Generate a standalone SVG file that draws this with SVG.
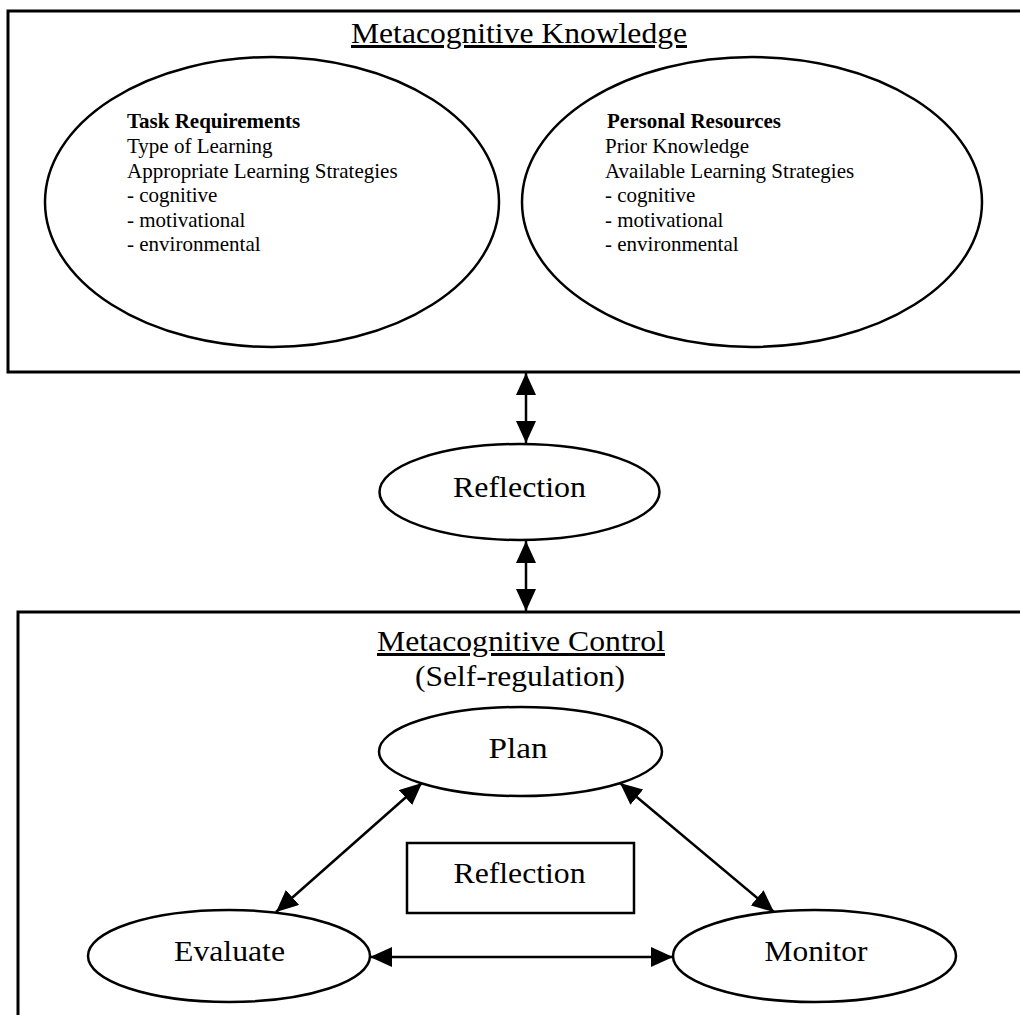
<svg xmlns="http://www.w3.org/2000/svg" width="1020" height="1015" viewBox="0 0 1020 1015">
<style>
.frame{fill:none;stroke:#000;stroke-width:3}
.shape{fill:#fff;stroke:#000;stroke-width:2.5}
.conn{fill:none;stroke:#000;stroke-width:2.5}
.big{font-family:"Liberation Serif","Times New Roman",serif;font-size:30px;fill:#000;text-anchor:middle}
.small{font-family:"Liberation Serif","Times New Roman",serif;font-size:21px;fill:#000}
.b{font-weight:bold}
</style>
<defs>
<marker id="ah" markerUnits="userSpaceOnUse" viewBox="0 0 22 20" refX="22" refY="10" markerWidth="22" markerHeight="20" orient="auto-start-reverse">
<path d="M0,0 L22,10 L0,20 Z" fill="#000"/>
</marker>
</defs>
<rect width="1020" height="1015" fill="#fff"/>

<g id="knowledge-box">
<path class="frame" d="M1022,11 H8 V372 H1022"/>
<text class="big" x="519" y="43" textLength="336" lengthAdjust="spacingAndGlyphs" text-decoration="underline">Metacognitive Knowledge</text>
</g>

<g id="task-requirements">
<ellipse class="shape" cx="272" cy="202" rx="227" ry="145"/>
<text class="small b" x="127" y="128">Task Requirements</text>
<text class="small" x="127" y="153">Type of Learning</text>
<text class="small" x="127" y="178">Appropriate Learning Strategies</text>
<text class="small" x="127" y="202">- cognitive</text>
<text class="small" x="127" y="227">- motivational</text>
<text class="small" x="127" y="251">- environmental</text>
</g>

<g id="personal-resources">
<ellipse class="shape" cx="752" cy="202" rx="230" ry="145"/>
<text class="small b" x="607" y="128">Personal Resources</text>
<text class="small" x="605" y="153">Prior Knowledge</text>
<text class="small" x="605" y="178">Available Learning Strategies</text>
<text class="small" x="605" y="202">- cognitive</text>
<text class="small" x="605" y="227">- motivational</text>
<text class="small" x="605" y="251">- environmental</text>
</g>

<g id="reflection-top">
<ellipse class="shape" cx="519.5" cy="492" rx="140" ry="48"/>
<text class="big" x="519.5" y="497" textLength="133" lengthAdjust="spacingAndGlyphs">Reflection</text>
</g>

<g id="control-box">
<path class="frame" d="M1022,612 H18 V1020"/>
<text class="big" x="521" y="651" textLength="288" lengthAdjust="spacingAndGlyphs" text-decoration="underline">Metacognitive Control</text>
<text class="big" x="520" y="686" textLength="210" lengthAdjust="spacingAndGlyphs">(Self-regulation)</text>
</g>

<g id="plan">
<ellipse class="shape" cx="520.5" cy="751.5" rx="141.5" ry="44.5"/>
<text class="big" x="518" y="758" textLength="59" lengthAdjust="spacingAndGlyphs">Plan</text>
</g>

<g id="reflection-box">
<rect class="shape" x="407" y="843" width="227" height="70"/>
<text class="big" x="519.5" y="883" textLength="132" lengthAdjust="spacingAndGlyphs">Reflection</text>
</g>

<g id="evaluate">
<ellipse class="shape" cx="229" cy="956" rx="141" ry="46"/>
<text class="big" x="229.5" y="961" textLength="111" lengthAdjust="spacingAndGlyphs">Evaluate</text>
</g>

<g id="monitor">
<ellipse class="shape" cx="814.5" cy="956" rx="141.5" ry="46"/>
<text class="big" x="816" y="961" textLength="103" lengthAdjust="spacingAndGlyphs">Monitor</text>
</g>

<g id="connectors">
<line class="conn" x1="526" y1="373" x2="526" y2="443" marker-start="url(#ah)" marker-end="url(#ah)"/>
<line class="conn" x1="526" y1="541" x2="526" y2="611" marker-start="url(#ah)" marker-end="url(#ah)"/>
<line class="conn" x1="422" y1="783" x2="276" y2="912" marker-start="url(#ah)" marker-end="url(#ah)"/>
<line class="conn" x1="620" y1="783" x2="774" y2="912" marker-start="url(#ah)" marker-end="url(#ah)"/>
<line class="conn" x1="370" y1="957" x2="673" y2="957" marker-start="url(#ah)" marker-end="url(#ah)"/>
</g>
</svg>
